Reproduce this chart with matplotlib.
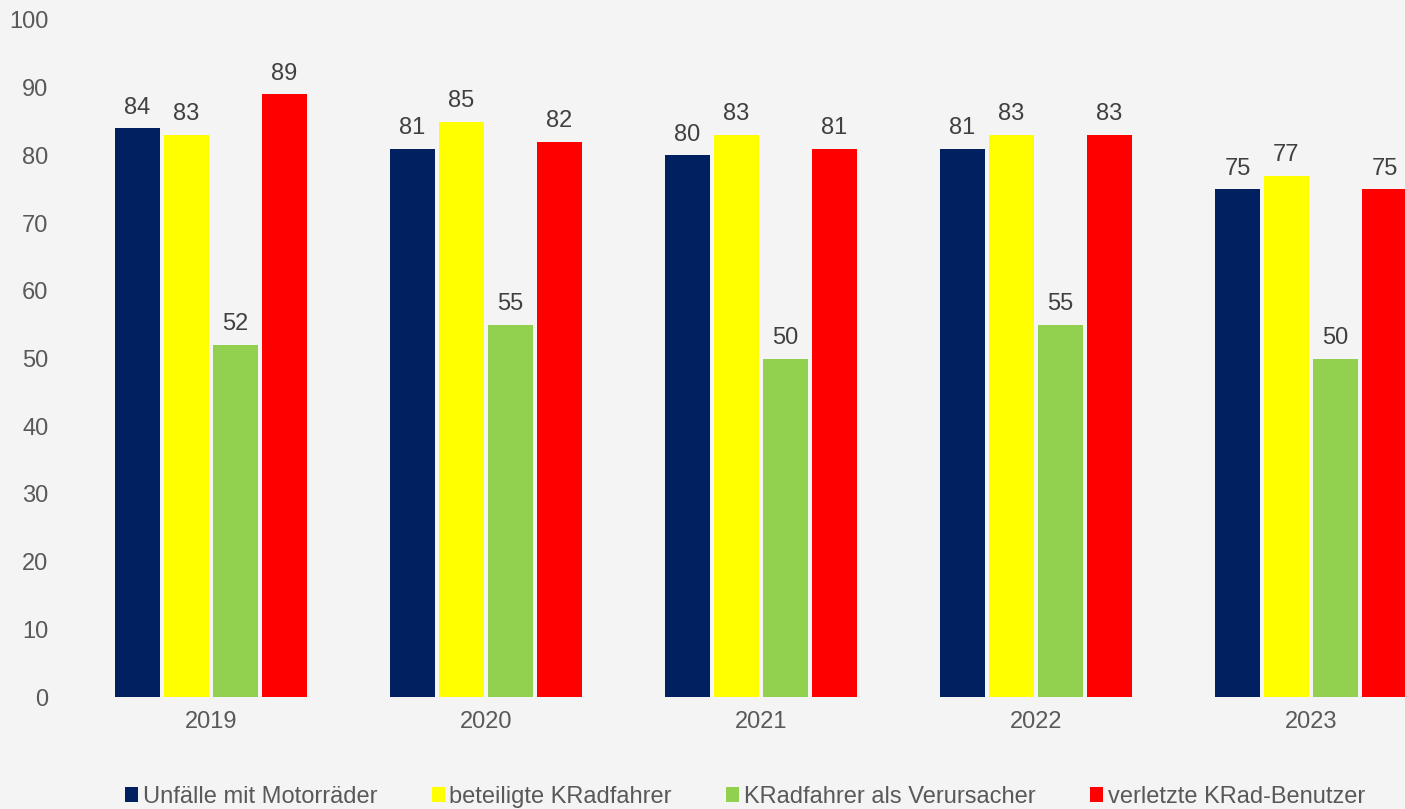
import matplotlib
matplotlib.use("Agg")
import matplotlib.pyplot as plt
import numpy as np

years = ["2019", "2020", "2021", "2022", "2023"]
series_names = ["Unfälle mit Motorräder", "beteiligte KRadfahrer",
                "KRadfahrer als Verursacher", "verletzte KRad-Benutzer"]
unfaelle = [84, 81, 80, 81, 75]
beteiligte = [83, 85, 83, 83, 77]
verursacher = [52, 55, 50, 55, 50]
verletzte = [89, 82, 81, 83, 75]
colors = ["#002060", "#FFFF00", "#92D050", "#FF0000"]

plt.rcParams['font.family'] = ['Liberation Sans', 'DejaVu Sans']
bg = "#F4F4F4"
fig = plt.figure(figsize=(14.05, 8.09), dpi=100, facecolor=bg)
ax = fig.add_axes([73.5/1405, 1-697/809, 1375/1405, (697-20)/809], facecolor=bg)

x = np.arange(len(years))
slot = 49/275
bw = 45/275
data = [unfaelle, beteiligte, verursacher, verletzte]
for i, (vals, c, name) in enumerate(zip(data, colors, series_names)):
    off = (i - 1.5) * slot
    ax.bar(x + off, vals, width=bw, color=c, edgecolor="none", label=name)
    for xi, v in zip(x + off, vals):
        ax.annotate(str(v), (xi, v), xytext=(0, 7), textcoords="offset points",
                    ha="center", va="bottom", fontsize=17, color="#404040")

ax.set_xlim(-0.5, 4.5)
ax.set_ylim(0, 100)
ax.set_yticks(range(0, 101, 10))
ax.set_xticks(x)
ax.set_xticklabels(years)
ax.tick_params(axis='both', length=0, labelsize=17, labelcolor="#595959")
ax.tick_params(axis='y', pad=18)
ax.tick_params(axis='x', pad=10)
for s in ax.spines.values():
    s.set_visible(False)

handles, labels = ax.get_legend_handles_labels()
leg = fig.legend(handles, labels, loc="lower center", bbox_to_anchor=(745/1405, -0.025),
                 ncol=4, frameon=False, fontsize=17, handlelength=0.55, handleheight=0.6,
                 handletextpad=0.2, columnspacing=2.3, labelcolor="#595959")
for h in leg.legend_handles:
    h.set_edgecolor("none")

fig.savefig("out.png", dpi=100, facecolor=bg)
